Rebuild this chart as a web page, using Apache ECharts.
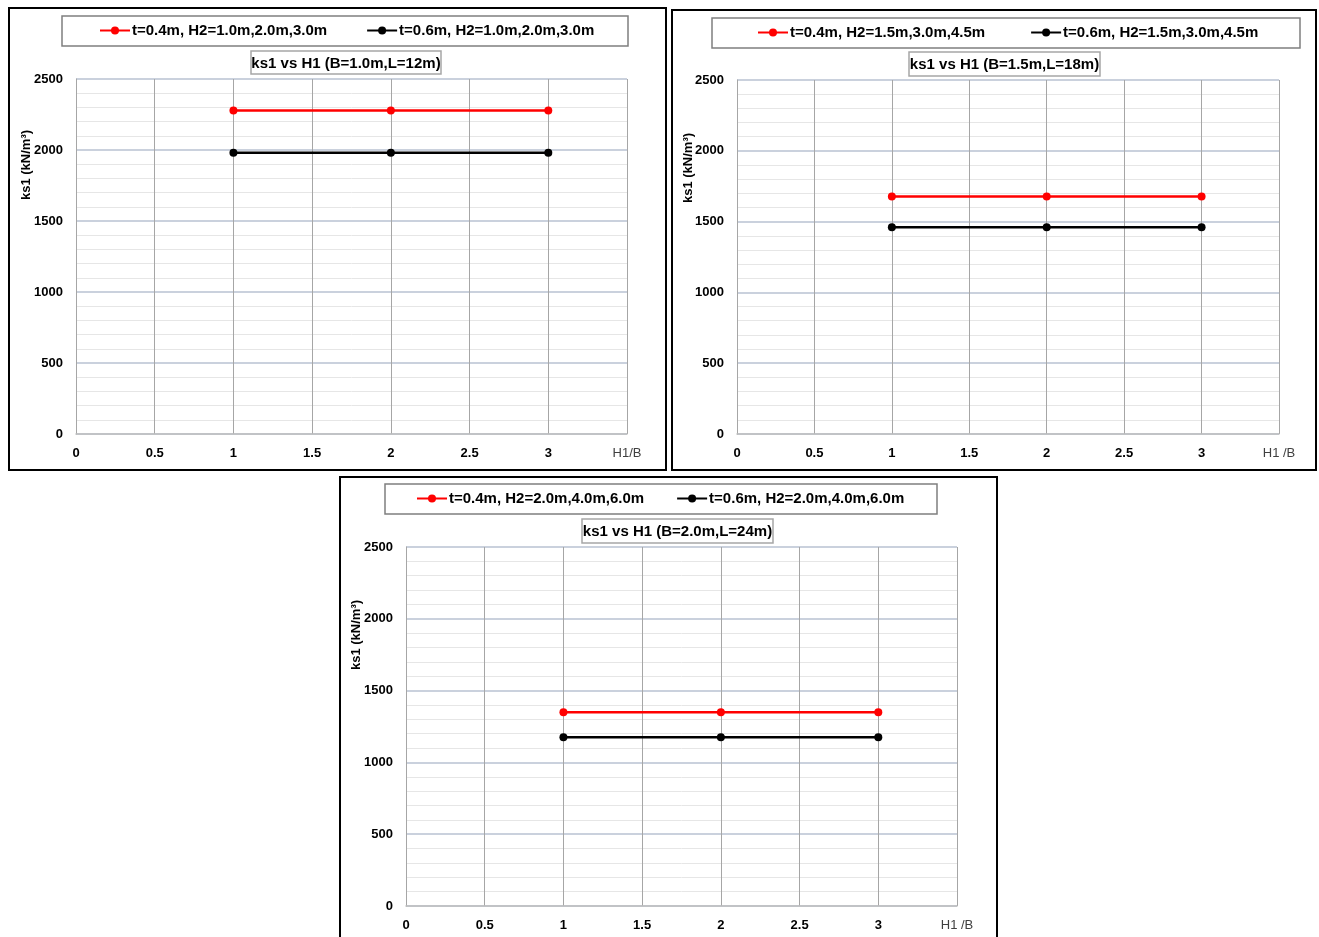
<!DOCTYPE html>
<html>
<head>
<meta charset="utf-8">
<script src="https://cdn.jsdelivr.net/npm/echarts/dist/echarts.min.js"></script>
<style>
html,body{margin:0;padding:0;background:#fff;}
#main{width:1319px;height:937px;}
</style>
</head>
<body>
<div id="main"></div>
<script>
// ---- data ----
const xValues = [1, 2, 3];
const xTickLabels = ['0', '0.5', '1', '1.5', '2', '2.5', '3'];
const yTickLabels = ['0', '500', '1000', '1500', '2000', '2500'];
const xAxisTitles = ['H1/B', 'H1 /B', 'H1 /B'];
const chartTitles = ['ks1 vs H1 (B=1.0m,L=12m)', 'ks1 vs H1 (B=1.5m,L=18m)', 'ks1 vs H1 (B=2.0m,L=24m)'];
const yAxisTitle = 'ks1 (kN/m³)';
const seriesNamesRed = ['t=0.4m, H2=1.0m,2.0m,3.0m', 't=0.4m, H2=1.5m,3.0m,4.5m', 't=0.4m, H2=2.0m,4.0m,6.0m'];
const seriesNamesBlack = ['t=0.6m, H2=1.0m,2.0m,3.0m', 't=0.6m, H2=1.5m,3.0m,4.5m', 't=0.6m, H2=2.0m,4.0m,6.0m'];
const chart1Red = [2278, 2278, 2278];
const chart1Black = [1980, 1980, 1980];
const chart2Red = [1678, 1678, 1678];
const chart2Black = [1460, 1460, 1460];
const chart3Red = [1350, 1350, 1350];
const chart3Black = [1175, 1175, 1175];
const redValues = [chart1Red, chart2Red, chart3Red];
const blackValues = [chart1Black, chart2Black, chart3Black];

// ---- layout ----
const FONT = '"Liberation Sans Narrow", "Liberation Sans", Arial, sans-serif';
const panels = [
  {box:[9,8,657,462], legendBox:[62,16,566,30], legendLeft:99, legendTop:23, legendGap:39,
   titleBox:[251,51,190,23], grid:{left:76,top:79,width:551,height:355}, yName:[26,165]},
  {box:[672,10,644,460], legendBox:[712,18,588,30], legendLeft:757, legendTop:25, legendGap:45,
   titleBox:[909,52,191,24], grid:{left:737,top:80,width:542,height:354}, yName:[688,168]},
  {box:[340,477,657,480], legendBox:[385,484,552,30], legendLeft:416, legendTop:491, legendGap:32,
   titleBox:[582,519,191,24], grid:{left:406,top:547,width:551,height:359}, yName:[356,635]}
];

const grids = [], xAxes = [], yAxes = [], series = [], legends = [], graphics = [];

panels.forEach((p, i) => {
  grids.push(Object.assign({containLabel:false}, p.grid));
  xAxes.push({
    type:'value', gridIndex:i, min:0, max:3.5, interval:0.5,
    axisLine:{show:true, onZero:false, lineStyle:{color:'#BFBFBF', width:1.5}},
    axisTick:{show:false},
    splitLine:{show:true, lineStyle:{color:'#A6A6A6', width:1}},
    axisLabel:{
      show:true, showMinLabel:true, showMaxLabel:true, margin:13,
      fontFamily:FONT, fontWeight:'bold', fontSize:13, color:'#000',
      formatter:(v) => {
        const idx = Math.round(v / 0.5);
        if (idx < xTickLabels.length) return xTickLabels[idx];
        return '{n|' + xAxisTitles[i] + '}';
      },
      rich:{n:{fontFamily:FONT, fontWeight:'normal', fontSize:13, color:'#404040'}}
    }
  });
  yAxes.push({
    type:'value', gridIndex:i, min:0, max:2500, interval:500,
    axisLine:{show:true, lineStyle:{color:'#A6A6A6', width:1}},
    axisTick:{show:false},
    minorTick:{show:false, splitNumber:5},
    minorSplitLine:{show:true, lineStyle:{color:'#E6E6E6', width:1}},
    splitLine:{show:true, lineStyle:{color:'#B8C2D2', width:1.5}},
    axisLabel:{margin:13, fontFamily:FONT, fontWeight:'bold', fontSize:13, color:'#000',
      formatter:(v) => yTickLabels[Math.round(v / 500)]}
  });
  const mk = (name, vals, color) => ({
    name, type:'line', xAxisIndex:i, yAxisIndex:i,
    data: xValues.map((x, k) => [x, vals[k]]),
    symbol:'circle', symbolSize:8, showSymbol:true,
    itemStyle:{color}, lineStyle:{color, width:2.5},
    emphasis:{disabled:true}, z:5
  });
  series.push(mk(seriesNamesRed[i], redValues[i], '#FF0000'));
  series.push(mk(seriesNamesBlack[i], blackValues[i], '#000000'));
  legends.push({
    data:[seriesNamesRed[i], seriesNamesBlack[i]],
    left:p.legendLeft, top:p.legendTop, padding:0,
    itemWidth:30, itemHeight:10, itemGap:p.legendGap,
    textStyle:{fontFamily:FONT, fontWeight:'bold', fontSize:15, color:'#000', padding:[0,0,0,-3]},
    selectedMode:false
  });
  // outer frame
  graphics.push({type:'rect', shape:{x:p.box[0], y:p.box[1], width:p.box[2], height:p.box[3]},
    style:{fill:'none', stroke:'#000', lineWidth:2}, silent:true});
  // legend frame
  graphics.push({type:'rect', shape:{x:p.legendBox[0], y:p.legendBox[1], width:p.legendBox[2], height:p.legendBox[3]},
    style:{fill:'none', stroke:'#7F7F7F', lineWidth:1.5}, silent:true});
  // title frame + text
  graphics.push({type:'rect', shape:{x:p.titleBox[0], y:p.titleBox[1], width:p.titleBox[2], height:p.titleBox[3]},
    style:{fill:'#fff', stroke:'#A6A6A6', lineWidth:1.5}, silent:true});
  graphics.push({type:'text', x:p.titleBox[0] + p.titleBox[2] / 2, y:p.titleBox[1] + p.titleBox[3] / 2 + 1,
    style:{text:chartTitles[i], font:'bold 15px ' + FONT, fill:'#000', align:'center', verticalAlign:'middle'}, silent:true});
  // y-axis title
  graphics.push({type:'text', x:p.yName[0], y:p.yName[1], rotation:Math.PI / 2,
    style:{text:yAxisTitle, font:'bold 13px ' + FONT, fill:'#000', align:'center', verticalAlign:'middle'}, silent:true});
});

const chart = echarts.init(document.getElementById('main'), null, {renderer:'canvas'});
chart.setOption({
  backgroundColor:'#fff',
  animation:false,
  grid:grids, xAxis:xAxes, yAxis:yAxes, series, legend:legends,
  graphic:{elements:graphics}
});
</script>
</body>
</html>
